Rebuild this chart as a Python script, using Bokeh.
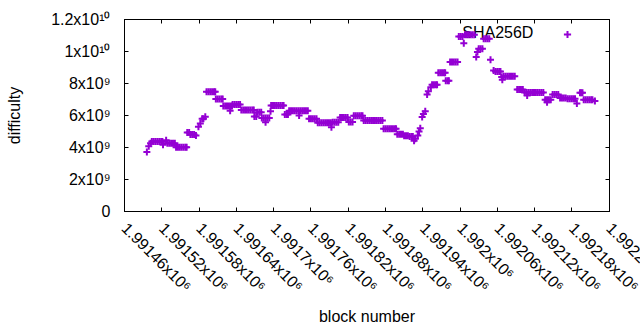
import math
from bokeh.plotting import figure
from bokeh.models import (Range1d, FixedTicker, LinearAxis, Legend, LegendItem,
                          Label, ColumnDataSource)
from bokeh.embed import file_html
from bokeh.resources import INLINE

# ---- data (block number, SHA256D difficulty in units of 1e9) ----
blocks = [
    1991496, 1991499, 1991502, 1991504, 1991507, 1991510, 1991513, 1991516, 1991519, 1991521,
    1991522, 1991527, 1991529, 1991532, 1991535, 1991538, 1991541, 1991543, 1991546, 1991549,
    1991552, 1991555, 1991558, 1991560, 1991561, 1991564, 1991566, 1991569, 1991572, 1991575,
    1991579, 1991582, 1991585, 1991587, 1991590, 1991592, 1991595, 1991598, 1991601, 1991604,
    1991606, 1991607, 1991610, 1991613, 1991616, 1991618, 1991619, 1991622, 1991625, 1991628,
    1991631, 1991633, 1991630, 1991634, 1991637, 1991640, 1991643, 1991646, 1991648, 1991651,
    1991654, 1991657, 1991660, 1991663, 1991666, 1991668, 1991669, 1991672, 1991674, 1991677,
    1991680, 1991681, 1991684, 1991687, 1991690, 1991693, 1991687, 1991695, 1991696, 1991699,
    1991702, 1991705, 1991708, 1991711, 1991714, 1991716, 1991718, 1991721, 1991723, 1991725,
    1991728, 1991731, 1991734, 1991737, 1991740, 1991743, 1991746, 1991749, 1991752, 1991755,
    1991741, 1991757, 1991760, 1991763, 1991766, 1991769, 1991771, 1991774, 1991777, 1991780,
    1991783, 1991786, 1991789, 1991792, 1991793, 1991795, 1991798, 1991801, 1991804, 1991807,
    1991810, 1991813, 1991816, 1991819, 1991821, 1991824, 1991827, 1991829, 1991832, 1991835,
    1991838, 1991841, 1991843, 1991845, 1991848, 1991851, 1991854, 1991857, 1991860, 1991863,
    1991866, 1991869, 1991872, 1991875, 1991877, 1991880, 1991883, 1991886, 1991889, 1991892,
    1991895, 1991897, 1991899, 1991902, 1991905, 1991908, 1991910, 1991913, 1991916, 1991919,
    1991922, 1991924, 1991926, 1991928, 1991932, 1991934, 1991936, 1991939, 1991941, 1991944,
    1991947, 1991949, 1991953, 1991955, 1991958, 1991961, 1991963, 1991965, 1991968, 1991971,
    1991974, 1991976, 1991977, 1991980, 1991982, 1991984, 1991987, 1991990, 1991993, 1991996,
    1991998, 1992001, 1992004, 1992006, 1992008, 1992011, 1992014, 1992017, 1992020, 1992023,
    1992026, 1992028, 1992030, 1992033, 1992036, 1992038, 1992041, 1992044, 1992047, 1992049,
    1992054, 1992057, 1992060, 1992063, 1992065, 1992067, 1992068, 1992070, 1992073, 1992076,
    1992079, 1992082, 1992085, 1992088, 1992092, 1992095, 1992098, 1992101, 1992104, 1992107,
    1992110, 1992113, 1992116, 1992119, 1992122, 1992125, 1992128, 1992131, 1992134, 1992108,
    1992137, 1992140, 1992143, 1992146, 1992140, 1992149, 1992152, 1992155, 1992158, 1992161,
    1992164, 1992167, 1992170, 1992173, 1992176, 1992179, 1992182, 1992185, 1992188, 1992193,
    1992195, 1992197, 1992199, 1992202, 1992205, 1992208, 1992211, 1992213, 1992217,
]
difficulty_e9 = [
    3.72, 4.08, 4.27, 4.37, 4.37, 4.37, 4.37, 4.37, 4.37, 4.37,
    4.17, 4.45, 4.27, 4.27, 4.27, 4.27, 4.27, 4.02, 4.02, 4.02,
    4.02, 4.02, 4.02, 4.02, 4.94, 4.94, 4.82, 4.82, 4.82, 4.75,
    5.30, 5.50, 5.80, 5.80, 5.92, 7.48, 7.48, 7.48, 7.48, 7.48,
    7.48, 7.03, 7.03, 7.03, 7.03, 7.03, 6.60, 6.60, 6.60, 6.60,
    6.60, 6.60, 6.30, 6.69, 6.69, 6.69, 6.69, 6.69, 6.35, 6.35,
    6.35, 6.35, 6.35, 6.35, 6.35, 6.35, 5.94, 5.94, 6.20, 6.20,
    6.20, 5.85, 5.85, 5.85, 5.85, 5.85, 5.58, 6.27, 6.63, 6.63,
    6.63, 6.63, 6.63, 6.63, 6.63, 6.63, 6.06, 6.06, 6.06, 6.29,
    6.29, 6.29, 6.29, 6.29, 6.29, 6.29, 6.29, 6.29, 6.29, 6.29,
    6.00, 5.79, 5.79, 5.79, 5.79, 5.79, 5.54, 5.54, 5.54, 5.54,
    5.54, 5.54, 5.54, 5.54, 5.27, 5.58, 5.58, 5.58, 5.58, 5.87,
    5.87, 5.87, 5.87, 5.87, 5.60, 5.60, 5.60, 5.98, 5.98, 5.98,
    5.98, 5.98, 5.98, 5.69, 5.69, 5.69, 5.69, 5.69, 5.69, 5.69,
    5.69, 5.69, 5.69, 5.69, 5.17, 5.17, 5.17, 5.17, 5.17, 5.17,
    5.17, 5.17, 4.83, 4.83, 4.83, 4.83, 4.73, 4.73, 4.73, 4.69,
    4.69, 4.69, 4.42, 4.55, 4.75, 5.00, 5.20, 5.90, 6.10, 6.27,
    7.31, 7.52, 7.77, 7.92, 7.92, 7.92, 7.92, 8.67, 8.67, 8.67,
    8.67, 8.67, 8.17, 8.17, 8.17, 9.35, 9.35, 9.35, 9.35, 9.35,
    10.94, 10.94, 10.94, 10.52, 11.04, 11.04, 11.04, 11.04, 11.04, 11.04,
    9.65, 9.97, 10.17, 10.17, 10.17, 10.80, 10.80, 10.80, 10.80, 9.48,
    8.81, 8.75, 8.75, 8.75, 8.75, 8.40, 8.23, 8.46, 8.46, 8.46,
    8.46, 8.46, 8.46, 8.46, 7.63, 7.63, 7.63, 7.63, 7.44, 7.44,
    7.44, 7.44, 7.44, 7.44, 7.44, 7.44, 7.44, 7.44, 7.44, 7.25,
    6.98, 6.98, 6.98, 6.98, 6.83, 7.31, 7.31, 7.31, 7.31, 7.10,
    7.10, 7.10, 7.10, 7.04, 7.04, 7.04, 7.04, 7.04, 6.75, 7.42,
    7.42, 7.42, 6.98, 6.98, 6.98, 6.98, 6.98, 6.98, 6.90,
]
series_name = "SHA256D"

x_ticks = [1991460, 1991520, 1991580, 1991640, 1991700, 1991760, 1991820,
           1991880, 1991940, 1992000, 1992060, 1992120, 1992180, 1992240]
x_tick_labels = ["1.99146x10\u2076", "1.99152x10\u2076", "1.99158x10\u2076",
                 "1.99164x10\u2076", "1.9917x10\u2076", "1.99176x10\u2076",
                 "1.99182x10\u2076", "1.99188x10\u2076", "1.99194x10\u2076",
                 "1.992x10\u2076", "1.99206x10\u2076", "1.99212x10\u2076",
                 "1.99218x10\u2076", "1.99224x10\u2076"]
y_ticks = [0, 2000000000, 4000000000, 6000000000, 8000000000, 10000000000, 12000000000]
y_tick_labels = ["0", "2x10\u2079", "4x10\u2079", "6x10\u2079", "8x10\u2079",
                 "1x10\u00b9\u2070", "1.2x10\u00b9\u2070"]

FONT = "Liberation Sans"
COLOR = "#9400d3"

# The x range ends a fraction of a block after the last tick; an unlabelled
# end tick there keeps Bokeh from pulling the last (cut-off) label inwards.
x_end = x_ticks[-1] + 0.5

src = ColumnDataSource(dict(block=blocks, diff=[v * 1e9 for v in difficulty_e9]))

p = figure(width=640, height=330, output_backend="svg", toolbar_location=None,
           x_range=Range1d(x_ticks[0], x_end), y_range=Range1d(y_ticks[0], y_ticks[-1]),
           min_border_left=124, min_border_right=31, min_border_top=19, min_border_bottom=119,
           background_fill_color="white", border_fill_color="white")
p.grid.visible = False
p.outline_line_color = "black"
p.outline_line_width = 1

r = p.scatter(x="block", y="diff", source=src, marker="cross", size=7,
              line_color=COLOR, line_width=2)

def style_axis(ax, ticks, labels=None):
    ax.ticker = FixedTicker(ticks=ticks)
    ax.minor_tick_line_color = None
    ax.major_tick_in = 4
    ax.major_tick_out = 0
    ax.axis_line_color = "black"
    ax.major_tick_line_color = "black"
    ax.major_label_text_font = FONT
    ax.major_label_text_font_size = "16px"
    ax.major_label_text_color = "black"
    ax.axis_label_text_font = FONT
    ax.axis_label_text_font_size = "16px"
    ax.axis_label_text_font_style = "normal"
    ax.axis_label_text_color = "black"
    if labels is not None:
        ax.major_label_overrides = dict(zip(ticks, labels))

def hide_labels(ax):
    ax.major_label_text_color = None
    ax.major_label_text_font_size = "1px"
    ax.major_label_standoff = 0

xa = p.xaxis[0]
style_axis(xa, x_ticks + [x_end], x_tick_labels + [""])
xa.major_label_orientation = -math.pi / 4
xa.major_label_standoff = 14
xa.axis_label = "block number"
xa.axis_label_standoff = 4

ya = p.yaxis[0]
style_axis(ya, y_ticks, y_tick_labels)
ya.major_label_standoff = 14
ya.axis_label = "difficulty"
ya.axis_label_standoff = 25

top = LinearAxis()
style_axis(top, x_ticks)
hide_labels(top)
p.add_layout(top, "above")

right = LinearAxis()
style_axis(right, y_ticks)
hide_labels(right)
p.add_layout(right, "right")

# key (gnuplot style: text then sample)
key_label = Label(x=1992118, y=11.19e9, text=series_name, text_align="right",
                  text_baseline="middle", text_font=FONT, text_font_size="16px",
                  text_color="black", level="underlay")
p.add_layout(key_label)
legend = Legend(items=[LegendItem(label=" ", renderers=[r])], location=(434, 168),
                padding=0, margin=0, spacing=0, glyph_width=18, glyph_height=18,
                label_standoff=0, label_text_font_size="1px",
                border_line_color=None, background_fill_alpha=0)
p.add_layout(legend)

open("out.html", "w").write(file_html(p, INLINE))
